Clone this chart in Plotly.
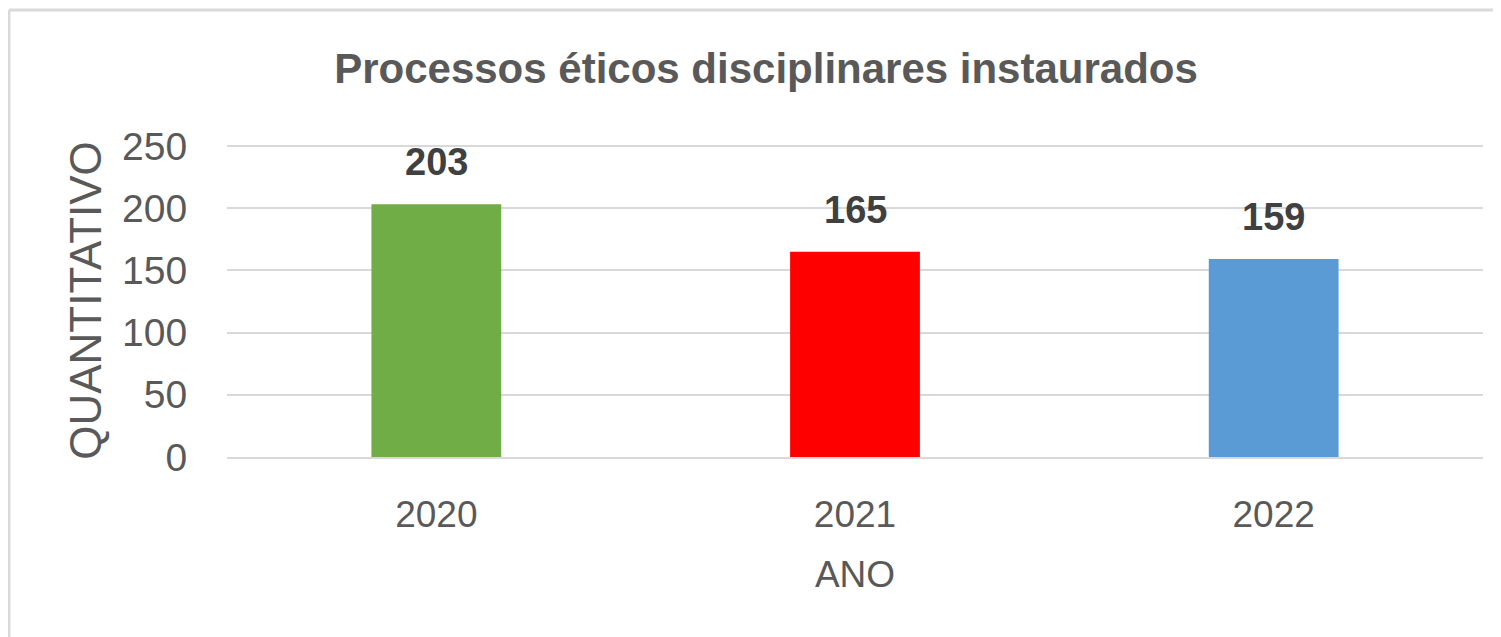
import plotly.graph_objects as go

anos = ["2020", "2021", "2022"]
valores = [203, 165, 159]
cores = ["#70AD47", "#FF0000", "#5B9BD5"]
ticks_y = [0, 50, 100, 150, 200, 250]

FONT = "Liberation Sans"
GRAY = "#595959"
BORDER = "#D9D9D9"

fig = go.Figure()
fig.add_trace(go.Bar(
    x=anos, y=valores, marker=dict(color=cores, line=dict(width=0)),
    width=0.31, hoverinfo="skip",
))
# data labels (category axis: position by category index)
for i, v in enumerate(valores):
    fig.add_annotation(x=i, y=v, xref="x", yref="y", text=f"<b>{v}</b>", showarrow=False,
                       yanchor="bottom", yshift=19,
                       font=dict(family=FONT, size=38, color="#404040"))

fig.update_layout(
    width=1501, height=637,
    margin=dict(l=219, r=26, t=136, b=188, autoexpand=False),
    paper_bgcolor="white", plot_bgcolor="white",
    showlegend=False,
    title=dict(text="<b>Processos éticos disciplinares instaurados</b>",
               x=0.505, xref="container", xanchor="center",
               y=0.906, yref="container", yanchor="middle",
               font=dict(family=FONT, size=42, color=GRAY)),
    font=dict(family=FONT, color=GRAY),
    xaxis=dict(type="category", categoryorder="array", categoryarray=anos,
               range=[-0.5, 2.5], automargin=False,
               title=dict(text="ANO", font=dict(size=37, color=GRAY), standoff=27),
               tickfont=dict(size=37, color=GRAY), showgrid=False,
               showline=True, linecolor=BORDER, linewidth=2,
               ticks="outside", ticklen=24, tickcolor="rgba(0,0,0,0)"),
    yaxis=dict(automargin=False, range=[0, 251.5],
               title=dict(text="QUANTITATIVO", font=dict(size=44, color=GRAY), standoff=6),
               tickvals=ticks_y, tickfont=dict(size=39, color=GRAY),
               showgrid=True, gridcolor=BORDER, gridwidth=1.5, zeroline=False,
               ticks="outside", ticklen=31, tickcolor="rgba(0,0,0,0)"),
    shapes=[
        dict(type="line", xref="paper", yref="paper", x0=-0.1736, x1=-0.1736, y0=-0.58, y1=1.428,
             line=dict(color=BORDER, width=3), layer="below"),
        dict(type="line", xref="paper", yref="paper", x0=-0.1736, x1=1.013, y0=1.428, y1=1.428,
             line=dict(color=BORDER, width=3), layer="below"),
    ],
)

fig.write_html("out.html")
